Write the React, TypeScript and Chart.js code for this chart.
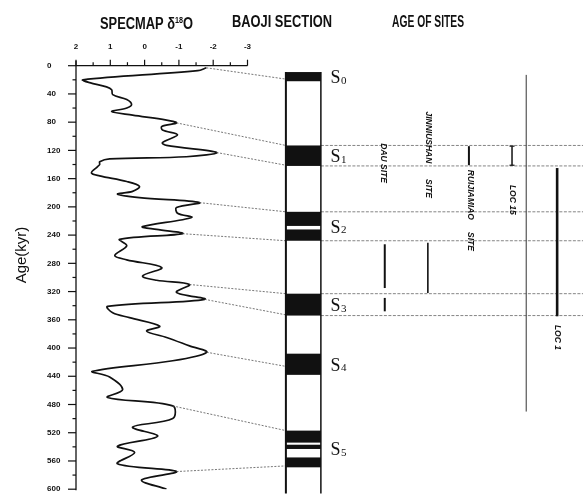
import React, { useEffect, useRef } from 'react';
import { Chart, registerables } from 'chart.js';
Chart.register(...registerables);

// ---- data ----
const ageTicks = [0, 40, 80, 120, 160, 200, 240, 280, 320, 360, 400, 440, 480, 520, 560, 600];
const isoTicks = [2, 1, 0, -1, -2, -3];

const curveAge = [3, 7, 20, 24, 30, 34, 41, 48, 55, 60, 65, 70, 77, 81, 86, 91, 98, 109, 113, 123,
  129, 132, 136, 140, 143, 152, 156, 164, 171, 178, 182, 187, 194, 201, 209, 215, 228, 232, 238, 246,
  255, 269, 275, 286, 298, 304, 310, 321, 331, 341, 350, 357, 369, 376, 385, 397, 406, 418, 433, 441,
  459, 470, 482, 500, 512, 525, 539, 548, 564, 575, 587, 600];
const curveIso = [-1.80, -1.55, 1.80, 1.60, 1.11, 0.96, 0.93, 0.52, 0.38, 0.52, 0.96, 0.35, -0.64, -0.93, -0.50, -0.52, -0.96, -0.52, -0.64, -2.10,
  -1.22, 1.02, 1.31, 1.31, 1.37, 1.55, 1.31, 0.52, 0.15, 0.35, 0.79, 0.15, -1.60, -0.93, -0.96, -1.37, 0.06, -0.35, -1.11, 0.73,
  0.52, 0.87, 0.52, -0.50, 0.06, -0.35, -1.31, -0.93, -1.75, 1.08, 0.93, 0.44, -0.44, -0.06, -0.64, -1.31, -1.81, -0.82, 1.52, 1.02,
  0.64, 1.08, -0.82, -0.82, 0.35, -0.38, 0.79, 0.29, 0.79, -0.93, 0.09, -0.64];

// paleosol bands of the Baoji section (kyr)
const bandTop = [9, 113, 207, 232, 323, 408, 517, 537, 555];
const bandBase = [22, 142, 227, 248, 354, 438, 534, 543, 569];
const bandUnit = [0, 1, 2, 2, 3, 4, 5, 5, 5];
const unitIndex = ['0', '1', '2', '3', '4', '5'];

// correlation lines: curve age -> section age
const linkCurveAge = [3, 81, 123, 194, 238, 310, 331, 406, 482, 575];
const linkSectionAge = [19, 113, 141, 207, 248, 323, 353, 426, 517, 567];

// horizontal guide ages across the sites panel
const guideAges = [113, 142, 207, 248, 323, 354];

// sites
const siteNames = ['DAU SITE', 'JINNIUSHAN SITE', 'RUIJIAMIAO SITE', 'LOC 15', '', 'LOC 1'];
const segSite = [0, 0, 1, 2, 3, 4, 5];
const segFrom = [253, 329, 251, 114, 114, 13, 145];
const segTo = [315, 348, 322, 141, 141, 490, 355];

// ---- layout (positions on the hidden x2 scale, 0..100) ----
const COL_L = 41.4;
const COL_R = 48.3;
const S_LABEL = 50.2;
const siteLane = [60.9, 69.4, 77.5, 86.0, 88.8, 94.9];
const siteLineWidth = [2, 1.6, 2, 1.5, 1, 2.6];
const siteLabelAge = [[138], [101.6, 174], [183, 249], [190], [], [385]];
const siteLabelDx = [-1.5, 0, 1, 0.5, 0, 0];

const INK = '#111';

function fitText(ctx: CanvasRenderingContext2D, text: string, cx: number, cy: number, font: string, width?: number) {
  ctx.save();
  ctx.font = font;
  const w = ctx.measureText(text).width;
  ctx.translate(cx, cy);
  if (width) ctx.scale(width / w, 1);
  ctx.textAlign = 'center';
  ctx.textBaseline = 'middle';
  ctx.fillText(text, 0, 0);
  ctx.restore();
}

function seg(ctx: CanvasRenderingContext2D, x1: number, y1: number, x2: number, y2: number) {
  ctx.beginPath();
  ctx.moveTo(x1, y1);
  ctx.lineTo(x2, y2);
  ctx.stroke();
}

const figurePlugin = {
  id: 'baojiFigure',
  afterDraw(chart: any) {
    const { ctx } = chart;
    const x = chart.scales.x;
    const x2 = chart.scales.x2;
    const y = chart.scales.y;
    ctx.save();
    ctx.fillStyle = INK;
    ctx.strokeStyle = INK;

    // ---- isotope axes ----
    const top = y.getPixelForValue(ageTicks[0]);
    const bottom = y.getPixelForValue(ageTicks[ageTicks.length - 1]);
    const left = x.getPixelForValue(isoTicks[0]);
    const right = x.getPixelForValue(isoTicks[isoTicks.length - 1]);
    ctx.lineWidth = 1.3;
    seg(ctx, left, top, right, top);
    seg(ctx, left, top - 5, left, bottom + 1);
    ctx.lineWidth = 1.2;
    isoTicks.forEach((v, i) => {
      const px = x.getPixelForValue(v);
      seg(ctx, px, top - 6, px, top);
      if (i < isoTicks.length - 1) {
        const pm = x.getPixelForValue((v + isoTicks[i + 1]) / 2);
        seg(ctx, pm, top - 3.5, pm, top);
      }
    });
    ageTicks.forEach((a, i) => {
      const py = y.getPixelForValue(a);
      seg(ctx, left - 8, py, left, py);
      if (i < ageTicks.length - 1) {
        const pm = y.getPixelForValue((a + ageTicks[i + 1]) / 2);
        seg(ctx, left - 3.5, pm, left, pm);
      }
    });

    // ---- titles ----
    ctx.fillStyle = INK;
    {
      const f1 = 'bold 16px "Liberation Sans", Arial, sans-serif';
      const f2 = 'bold 9px "Liberation Sans", Arial, sans-serif';
      const a = 'SPECMAP \u03b4';
      const b = '18';
      const c = 'O';
      ctx.font = f1;
      const wa = ctx.measureText(a).width;
      const wc = ctx.measureText(c).width;
      ctx.font = f2;
      const wb = ctx.measureText(b).width;
      const total = wa + wb + wc;
      const target = 93;
      const s = target / total;
      ctx.save();
      ctx.translate(146.5 - target / 2, 29);
      ctx.scale(s, 1);
      ctx.textAlign = 'left';
      ctx.textBaseline = 'alphabetic';
      ctx.font = f1;
      ctx.fillText(a, 0, 0);
      ctx.font = f2;
      ctx.fillText(b, wa, -6);
      ctx.font = f1;
      ctx.fillText(c, wa + wb, 0);
      ctx.restore();
    }
    fitText(ctx, 'BAOJI SECTION', 282, 23, 'bold 16px "Liberation Sans", Arial, sans-serif', 100);
    fitText(ctx, 'AGE OF SITES', 428, 23, 'bold 16px "Liberation Sans", Arial, sans-serif', 72);

    // y title
    ctx.save();
    ctx.translate(22, 255);
    ctx.rotate(-Math.PI / 2);
    ctx.font = '15px "Liberation Sans", Arial, sans-serif';
    ctx.textAlign = 'center';
    ctx.textBaseline = 'middle';
    ctx.fillText('Age(kyr)', 0, 0);
    ctx.restore();

    // ---- correlation lines ----
    const colL = x2.getPixelForValue(COL_L);
    const colR = x2.getPixelForValue(COL_R);
    ctx.save();
    ctx.strokeStyle = '#555';
    ctx.lineWidth = 0.8;
    ctx.setLineDash([2, 1.5]);
    linkCurveAge.forEach((ca, i) => {
      let j = 0;
      curveAge.forEach((a, k) => { if (Math.abs(a - ca) < Math.abs(curveAge[j] - ca)) j = k; });
      seg(ctx, x.getPixelForValue(curveIso[j]), y.getPixelForValue(curveAge[j]), colL, y.getPixelForValue(linkSectionAge[i]));
    });
    ctx.setLineDash([3, 1.5]);
    ctx.strokeStyle = '#666';
    guideAges.forEach((a) => {
      const py = y.getPixelForValue(a);
      seg(ctx, colR, py, x2.getPixelForValue(100), py);
    });
    ctx.restore();

    // ---- section column ----
    bandTop.forEach((t, i) => {
      const y1 = y.getPixelForValue(t);
      const y2 = y.getPixelForValue(bandBase[i]);
      ctx.fillRect(colL, y1, colR - colL, y2 - y1);
    });
    const colTop = y.getPixelForValue(bandTop[0]);
    const colBottom = y.getPixelForValue(606);
    ctx.lineWidth = 2;
    seg(ctx, colL, colTop, colL, colBottom);
    ctx.lineWidth = 1.5;
    seg(ctx, colR, colTop, colR, colBottom);

    // S labels
    unitIndex.forEach((digit, u) => {
      let t = Infinity;
      let b = -Infinity;
      bandUnit.forEach((bu, i) => {
        if (bu === u) { t = Math.min(t, bandTop[i]); b = Math.max(b, bandBase[i]); }
      });
      const cy = y.getPixelForValue((t + b) / 2);
      const sx = x2.getPixelForValue(S_LABEL);
      ctx.textAlign = 'left';
      ctx.textBaseline = 'alphabetic';
      ctx.font = '18px "Liberation Serif", "Times New Roman", serif';
      ctx.fillText('S', sx, cy + 6.5);
      const ws = ctx.measureText('S').width;
      ctx.font = '11px "Liberation Serif", "Times New Roman", serif';
      ctx.fillText(digit, sx + ws + 0.5, cy + 7);
    });

    // ---- sites ----
    segSite.forEach((s, i) => {
      const px = x2.getPixelForValue(siteLane[s]);
      const y1 = y.getPixelForValue(segFrom[i]);
      const y2 = y.getPixelForValue(segTo[i]);
      ctx.lineWidth = siteLineWidth[s];
      ctx.strokeStyle = s === 4 ? '#333' : INK;
      seg(ctx, px, y1, px, y2);
      if (s === 3) {
        ctx.lineWidth = 1.2;
        seg(ctx, px - 2.5, y1, px + 2.5, y1);
        seg(ctx, px - 2.5, y2, px + 2.5, y2);
      }
    });
    ctx.fillStyle = INK;
    siteNames.forEach((name, s) => {
      const anchors = siteLabelAge[s];
      if (!anchors.length) return;
      const parts = anchors.length === 1 ? [name] : name.split(' ');
      parts.forEach((p, k) => {
        const px = x2.getPixelForValue(siteLane[s]) + siteLabelDx[s];
        const py = y.getPixelForValue(anchors[k]);
        ctx.save();
        ctx.translate(px, py);
        ctx.rotate(Math.PI / 2);
        ctx.font = 'italic bold 8.5px "Liberation Sans", Arial, sans-serif';
        ctx.textAlign = 'center';
        ctx.textBaseline = 'middle';
        ctx.fillText(p, 0, 0);
        ctx.restore();
      });
    });

    ctx.restore();
  },
};

export default function App() {
  const ref = useRef<HTMLCanvasElement | null>(null);
  useEffect(() => {
    const canvas = ref.current;
    if (!canvas) return;
    const X_MAX = isoTicks[0];
    const X_MIN = X_MAX - ((isoTicks[0] - isoTicks[isoTicks.length - 1]) * 507) / 171.5;
    const chart = new Chart(canvas, {
      type: 'scatter',
      data: {
        datasets: [
          {
            data: curveAge.map((a, i) => ({ x: curveIso[i], y: a })),
            showLine: true,
            borderColor: INK,
            borderWidth: 1.7,
            pointRadius: 0,
            tension: 0.35,
            xAxisID: 'x',
            yAxisID: 'y',
          },
        ],
      },
      options: {
        animation: false,
        responsive: false,
        maintainAspectRatio: false,
        layout: { padding: { left: 47, right: 0, top: 0, bottom: 3 } },
        plugins: { legend: { display: false }, tooltip: { enabled: false }, title: { display: false } },
        scales: {
          x: {
            type: 'linear',
            position: 'top',
            reverse: true,
            min: X_MIN,
            max: X_MAX,
            afterBuildTicks: (s: any) => { s.ticks = isoTicks.map((v) => ({ value: v })); },
            afterFit: (s: any) => { s.height = 65.7; },
            grid: { display: false, drawTicks: false },
            border: { display: false },
            ticks: {
              autoSkip: false,
              maxRotation: 0,
              color: INK,
              padding: 14,
              font: { size: 8, weight: 'bold', family: '"Liberation Sans", Arial, sans-serif' },
              callback: (v: any) => String(v),
            },
          },
          x2: { type: 'linear', display: false, min: 0, max: 100 },
          y: {
            type: 'linear',
            position: 'left',
            reverse: true,
            min: ageTicks[0],
            max: ageTicks[ageTicks.length - 1],
            afterBuildTicks: (s: any) => { s.ticks = ageTicks.map((v) => ({ value: v })); },
            afterFit: (s: any) => { s.width = 29; },
            grid: { display: false, drawTicks: false },
            border: { display: false },
            ticks: {
              autoSkip: false,
              crossAlign: 'far',
              color: INK,
              padding: 0,
              font: { size: 8, weight: 'bold', family: '"Liberation Sans", Arial, sans-serif' },
              callback: (v: any) => String(v),
            },
          },
        },
      } as any,
      plugins: [figurePlugin],
    });
    return () => chart.destroy();
  }, []);
  return (
    <div style={{ position: 'fixed', left: 0, top: 0, width: 583, height: 494, background: '#fff' }}>
      <canvas ref={ref} width={583} height={494} style={{ display: 'block' }} />
    </div>
  );
}
